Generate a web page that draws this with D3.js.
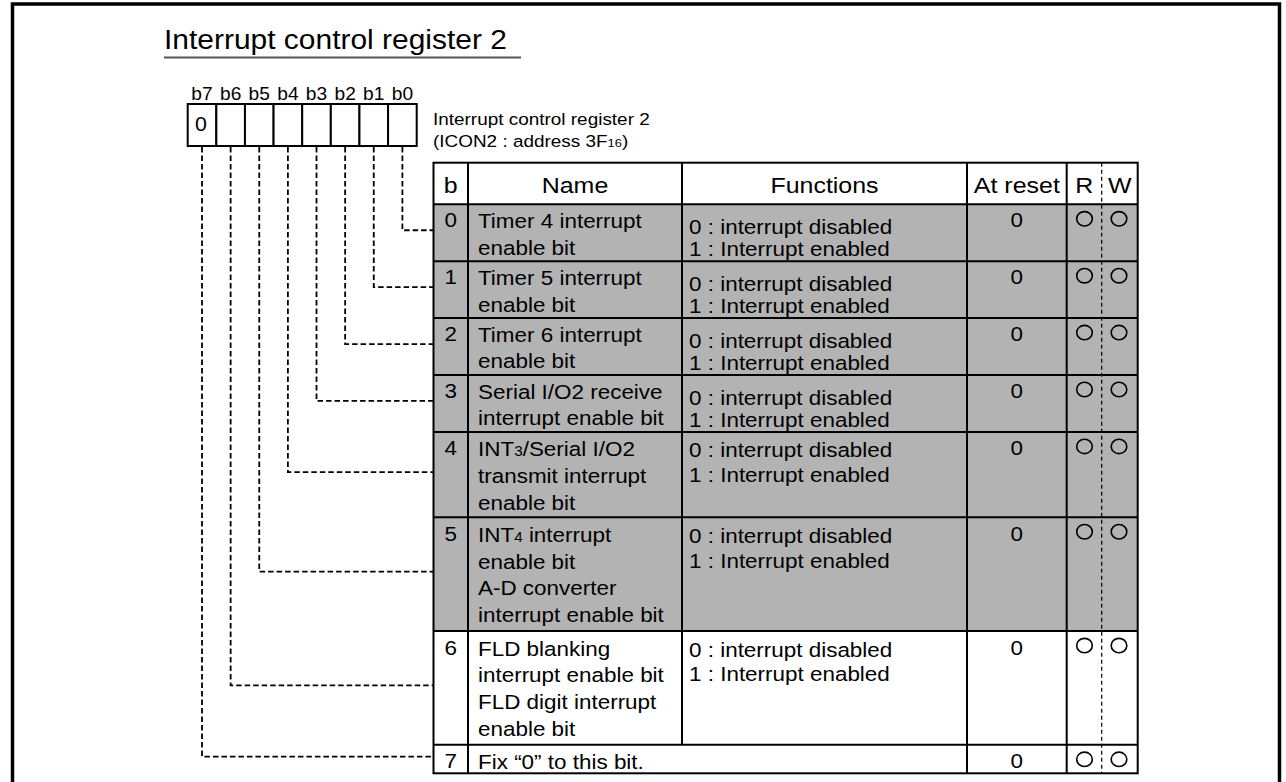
<!DOCTYPE html>
<html>
<head>
<meta charset="utf-8">
<script src="https://cdn.jsdelivr.net/npm/d3@7"></script>
<style>
  html, body { margin: 0; padding: 0; background: #fff; }
  svg { display: block; }
  text { font-family: "Liberation Sans", Arial, Helvetica, sans-serif; fill: #000; }
</style>
</head>
<body>
<svg id="chart" width="1286" height="782"></svg>
<script>
// ---------------- DATA ----------------
const titleText = "Interrupt control register 2";
const registerName = ["Interrupt control register 2", "(ICON2 : address 3F{16})"];
const bitLabels = ["b7", "b6", "b5", "b4", "b3", "b2", "b1", "b0"];
const registerValues = ["0", "", "", "", "", "", "", ""];
const headers = ["b", "Name", "Functions", "At reset", "R", "W"];
const bits = [0, 1, 2, 3, 4, 5, 6, 7];
const names = [
  ["Timer 4 interrupt", "enable bit"],
  ["Timer 5 interrupt", "enable bit"],
  ["Timer 6 interrupt", "enable bit"],
  ["Serial I/O2 receive", "interrupt enable bit"],
  ["INT{3}/Serial I/O2", "transmit interrupt", "enable bit"],
  ["INT{4} interrupt", "enable bit", "A-D converter", "interrupt enable bit"],
  ["FLD blanking", "interrupt enable bit", "FLD digit interrupt", "enable bit"],
  ["Fix \u201c0\u201d to this bit."]
];
const functions = [
  ["0 : interrupt disabled", "1 : Interrupt enabled"],
  ["0 : interrupt disabled", "1 : Interrupt enabled"],
  ["0 : interrupt disabled", "1 : Interrupt enabled"],
  ["0 : interrupt disabled", "1 : Interrupt enabled"],
  ["0 : interrupt disabled", "1 : Interrupt enabled"],
  ["0 : interrupt disabled", "1 : Interrupt enabled"],
  ["0 : interrupt disabled", "1 : Interrupt enabled"],
  []
];
const resetValues = ["0", "0", "0", "0", "0", "0", "0", "0"];
const readable = [true, true, true, true, true, true, true, true];
const writable = [true, true, true, true, true, true, true, true];
const shaded = [true, true, true, true, true, true, false, false];

// ---------------- LAYOUT ----------------
const svg = d3.select("#chart");
const SX = 1.095;

function addText(parent, x, y, str, size, anchor) {
  const t = parent.append("text")
    .attr("transform", `translate(${x},${y}) scale(${SX},1)`)
    .attr("font-size", size)
    .attr("text-anchor", anchor || "start");
  const parts = str.split(/(\{[^}]*\})/).filter(s => s.length);
  parts.forEach(p => {
    if (p.startsWith("{")) {
      t.append("tspan").attr("font-size", size * 0.68).text(p.slice(1, -1));
    } else {
      t.append("tspan").text(p);
    }
  });
  return t;
}

svg.append("rect").attr("width", 1286).attr("height", 782).attr("fill", "#fff");

// outer frame
svg.append("rect")
  .attr("x", 12.5).attr("y", 4).attr("width", 1267).attr("height", 820)
  .attr("fill", "none").attr("stroke", "#000").attr("stroke-width", 3.5);

// title
svg.append("text")
  .attr("transform", `translate(164,48.5) scale(1.07,1)`)
  .attr("font-size", 28).text(titleText);
svg.append("line")
  .attr("x1", 164).attr("x2", 521).attr("y1", 57.5).attr("y2", 57.5)
  .attr("stroke", "#555").attr("stroke-width", 2);

// register boxes
const xBit = d3.scaleBand().domain(bitLabels).range([187.7, 416.7]);
const boxTop = 104, boxBottom = 146;
const reg = svg.append("g");
bitLabels.forEach((b, i) => {
  reg.append("rect")
    .attr("x", xBit(b)).attr("y", boxTop)
    .attr("width", xBit.bandwidth()).attr("height", boxBottom - boxTop)
    .attr("fill", "#fff").attr("stroke", "#000").attr("stroke-width", 2);
  addText(reg, xBit(b) + xBit.bandwidth() / 2, 100, b, 17.5, "middle");
  if (registerValues[i]) addText(reg, xBit(b) + xBit.bandwidth() / 2 - 1, 131, registerValues[i], 19.5, "middle");
});
registerName.forEach((s, i) => addText(svg, 433, 125 + i * 22, s, 17.3, "start"));

// table geometry
const colX = [433.5, 468, 682, 967, 1066.7, 1137.7];
const rwX = 1101.7;
const tableTop = 162.7, headerBottom = 204.3, tableBottom = 773.3;
const rowLines = bits.map(i => Math.max(names[i].length, functions[i].length));
const cumLines = [0];
rowLines.forEach(n => cumLines.push(cumLines[cumLines.length - 1] + n));
const yLine = d3.scaleLinear().domain([0, cumLines[cumLines.length - 1]]).range([headerBottom, tableBottom]);

const table = svg.append("g");
bits.forEach(i => {
  table.append("rect")
    .attr("x", colX[0]).attr("y", yLine(cumLines[i]))
    .attr("width", colX[5] - colX[0]).attr("height", yLine(cumLines[i + 1]) - yLine(cumLines[i]))
    .attr("fill", shaded[i] ? "#b3b3b3" : "#fff");
});

// dashed connectors
const conn = svg.append("g").attr("fill", "none").attr("stroke", "#000")
  .attr("stroke-width", 1.8).attr("stroke-dasharray", "5.5,3");
bits.forEach(i => {
  const cx = xBit("b" + i) + xBit.bandwidth() / 2;
  const yc = (yLine(cumLines[i]) + yLine(cumLines[i + 1])) / 2 - 2.5;
  conn.append("path").attr("d", d3.line()([[cx, boxBottom + 1], [cx, yc], [colX[0], yc]]));
});

// borders
const border = table.append("g").attr("stroke", "#000").attr("stroke-width", 2).attr("fill", "none");
border.append("rect").attr("x", colX[0]).attr("y", tableTop)
  .attr("width", colX[5] - colX[0]).attr("height", tableBottom - tableTop);
border.append("line").attr("x1", colX[0]).attr("x2", colX[5]).attr("y1", headerBottom).attr("y2", headerBottom);
bits.forEach(i => {
  if (i > 0) border.append("line").attr("x1", colX[0]).attr("x2", colX[5])
    .attr("y1", yLine(cumLines[i])).attr("y2", yLine(cumLines[i]));
});
[1, 3, 4].forEach(c => border.append("line").attr("x1", colX[c]).attr("x2", colX[c])
  .attr("y1", tableTop).attr("y2", tableBottom));
border.append("line").attr("x1", colX[2]).attr("x2", colX[2])
  .attr("y1", tableTop).attr("y2", yLine(cumLines[7]));
table.append("line").attr("x1", rwX).attr("x2", rwX).attr("y1", tableTop).attr("y2", tableBottom)
  .attr("stroke", "#000").attr("stroke-width", 1.2).attr("stroke-dasharray", "4,3");

// header
const hb = 193, hs = 22.8;
addText(table, (colX[0] + colX[1]) / 2, hb, headers[0], hs, "middle");
addText(table, (colX[1] + colX[2]) / 2, hb, headers[1], hs, "middle");
addText(table, (colX[2] + colX[3]) / 2, hb, headers[2], hs, "middle");
addText(table, (colX[3] + colX[4]) / 2, hb, headers[3], hs, "middle");
addText(table, (colX[4] + rwX) / 2, hb, headers[4], hs, "middle");
addText(table, (rwX + colX[5]) / 2, hb, headers[5], hs, "middle");

// rows
const fs = 20.5;
bits.forEach(i => {
  const top = yLine(cumLines[i]);
  const twoLine = rowLines[i] === 2;
  const b0 = twoLine ? 23.5 : 24.5;
  addText(table, (colX[0] + colX[1]) / 2, top + b0 - 1, String(bits[i]), fs, "middle");
  names[i].forEach((s, k) => addText(table, 478, top + b0 + k * 26.8, s, fs, "start"));
  const f0 = twoLine ? 29.5 : 25.5;
  const fStep = twoLine ? 22.5 : 24.8;
  functions[i].forEach((s, k) => addText(table, 689, top + f0 + k * fStep, s, fs, "start"));
  addText(table, (colX[3] + colX[4]) / 2, top + b0 - 1, resetValues[i], fs, "middle");
  const cy = top + 14.5;
  if (readable[i]) table.append("ellipse").attr("cx", 1084.5).attr("cy", cy).attr("rx", 7.8).attr("ry", 7.2)
    .attr("fill", "none").attr("stroke", "#000").attr("stroke-width", 1.6);
  if (writable[i]) table.append("ellipse").attr("cx", 1119).attr("cy", cy).attr("rx", 7.8).attr("ry", 7.2)
    .attr("fill", "none").attr("stroke", "#000").attr("stroke-width", 1.6);
});
</script>
</body>
</html>
